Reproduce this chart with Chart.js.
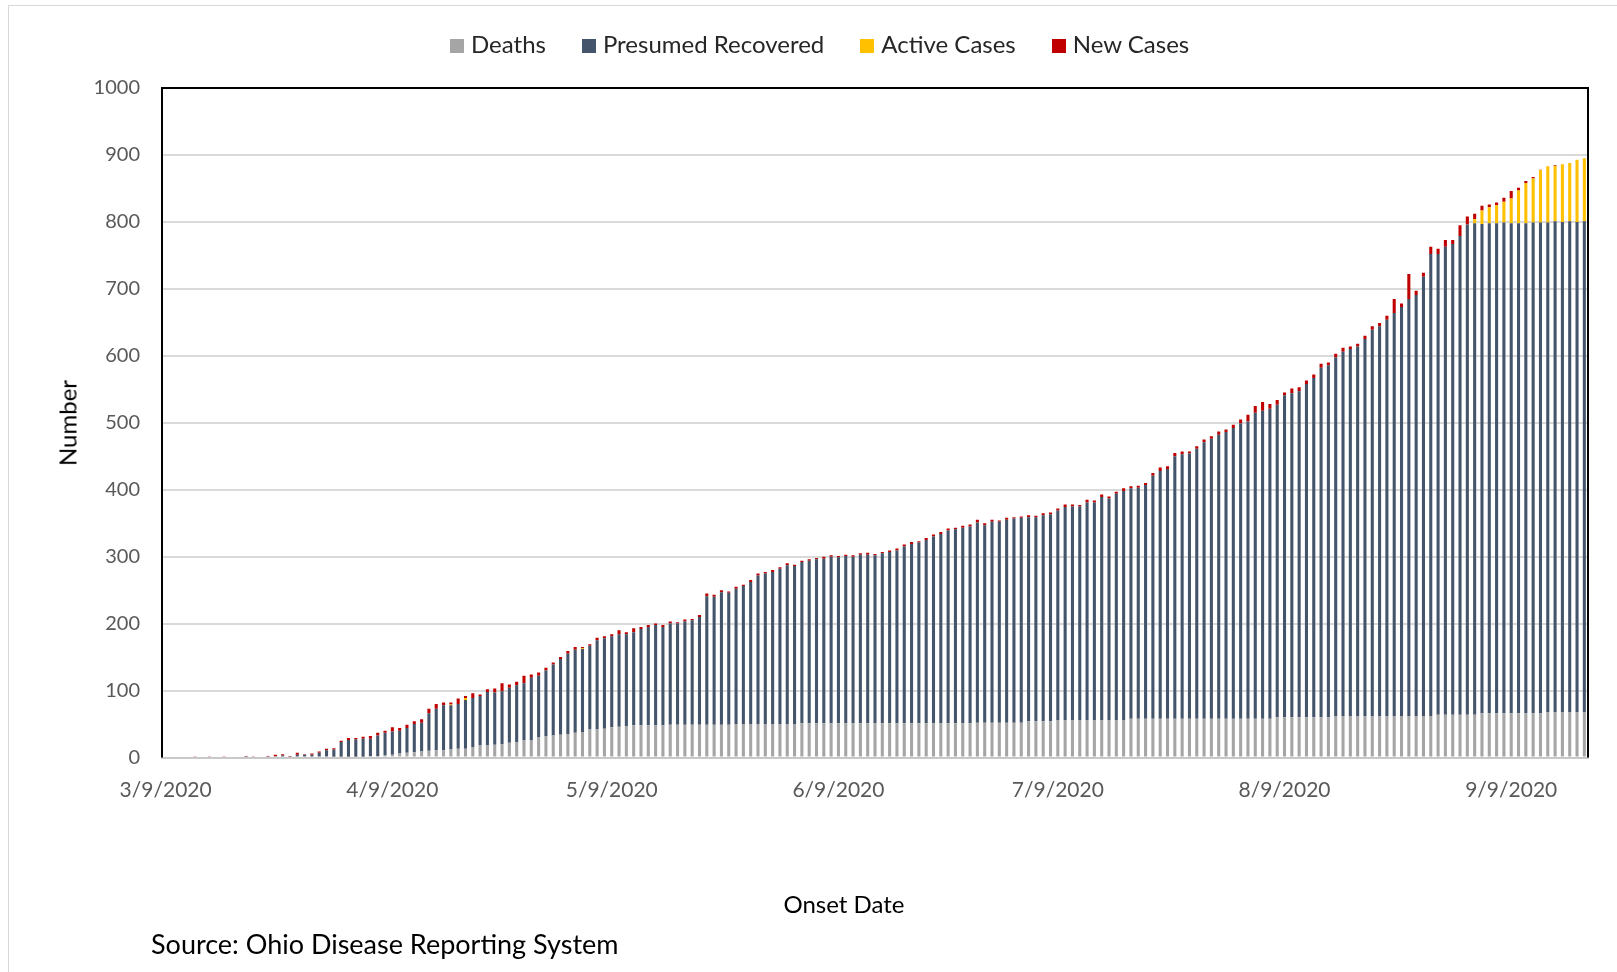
<!DOCTYPE html>
<html>
<head>
<meta charset="utf-8">
<script src="https://cdn.jsdelivr.net/npm/chart.js@4.4.1/dist/chart.umd.min.js"></script>
<style>
  body { margin: 0; background: #fff; font-family: Lato, "Open Sans", sans-serif; }
  #wrap { position: relative; width: 1617px; height: 972px; overflow: hidden; }
  #frame { position: absolute; left: 8px; top: 5px; width: 1620px; height: 980px; border: 1px solid #d9d9d9; box-sizing: border-box; }
  canvas { position: absolute; left: 0; top: 0; }
  .txt { position: absolute; color: #000; white-space: nowrap; }
  #legend { position: absolute; left: 450px; top: 29px; display: flex; align-items: center; gap: 36px; font-size: 24px; color: #262626; }
  #legend span.box { display: inline-block; width: 14px; height: 14px; margin-right: 7px; vertical-align: middle; position: relative; top: -1px; }
  #ytitle { left: 67px; top: 423px; font-size: 24px; transform: translate(-50%, -50%) rotate(-90deg); }
  #xtitle { left: 844px; top: 903px; font-size: 24px; transform: translate(-50%, -50%); }
  #source { left: 151px; top: 943px; font-size: 27px; transform: translateY(-50%); }
</style>
</head>
<body>
<div id="wrap">
  <div id="frame"></div>
  <canvas id="grafico" width="1617" height="972"></canvas>
  <div id="legend"></div>
  <div class="txt" id="ytitle">Number</div>
  <div class="txt" id="xtitle">Onset Date</div>
  <div class="txt" id="source">Source: Ohio Disease Reporting System</div>
</div>
<script>
// ==================== Dados ====================
// Datas de início de sintomas: 3/9/2020 até 9/19/2020 (195 dias)
const labels = [];
for (let d = new Date(2020, 2, 9), i = 0; i < 195; i++, d.setDate(d.getDate() + 1)) {
  labels.push(`${d.getMonth() + 1}/${d.getDate()}/2020`);
}
const tickLabels = ['3/9/2020', '4/9/2020', '5/9/2020', '6/9/2020', '7/9/2020', '8/9/2020', '9/9/2020'];

const deaths = [
  0,0,0,0,0,0,0,0,0,0, 0,0,0,0,0,0,0,0,0,0,
  0,0,0,1,1,1,1,1,2,2, 3,4,6,7,8,9,10,11,11,12,
  13,13,15,18,18,19,20,22,23,26, 26,30,32,33,34,35,37,38,42,42,
  43,45,46,47,48,48,48,48,48,49, 49,49,49,49,49,49,49,49,50,50,
  50,50,50,50,50,50,50,51,51,51, 51,51,51,51,51,51,51,51,51,51,
  51,51,51,51,51,51,51,51,51,51, 51,52,52,52,52,52,52,52,54,54,
  54,54,56,56,56,56,56,56,56,56, 56,56,58,58,58,58,58,58,58,58,
  58,58,58,58,58,58,58,58,58,58, 58,58,60,60,60,60,60,60,60,60,
  62,62,62,62,62,62,62,62,62,62, 62,62,62,62,64,64,64,64,64,64,
  66,66,66,66,66,66,66,66,66,68, 68,68,68,68,68
];
const recovered = [
  0,0,0,0,0,0,0,0,0,0, 0,1,0,0,1,2,3,1,4,4,
  4,7,11,11,22,25,26,27,26,31, 34,35,34,37,42,43,56,62,67,66,
  67,73,74,74,80,78,79,82,85,85, 93,92,98,106,113,120,124,124,125,133,
  135,136,138,137,139,144,147,150,147,151, 151,154,156,161,192,191,198,197,202,206,
  212,222,225,227,232,237,236,241,243,245, 246,249,248,250,249,252,252,251,254,256,
  258,264,268,270,274,279,283,288,290,292, 294,299,295,300,300,303,305,306,305,305,
  308,309,313,318,319,319,325,325,333,331, 338,342,344,345,349,363,370,373,392,395,
  396,403,413,418,424,428,434,441,444,457, 460,463,467,481,484,487,498,507,522,526,
  536,544,548,552,563,577,582,592,602,611, 623,629,656,690,688,699,703,715,732,734,
  731,732,732,733,732,732,732,733,733,731, 733,732,733,732,733
];
const activeCases = [
  0,0,0,0,0,0,0,0,0,0, 0,0,0,0,0,0,0,0,0,0,
  0,0,0,0,0,0,0,0,0,0, 0,0,0,0,0,0,0,0,0,1,
  0,3,0,0,0,0,0,0,0,0, 0,0,0,0,0,0,0,1,0,0,
  0,0,0,0,0,0,0,0,0,0, 0,0,0,0,0,0,0,0,0,0,
  0,0,0,0,0,0,0,0,0,0, 0,0,0,0,0,0,0,0,0,0,
  0,0,0,0,0,0,0,0,0,0, 0,0,0,0,0,0,0,0,0,0,
  0,0,0,0,0,0,0,0,0,0, 0,0,0,0,0,0,0,0,0,0,
  0,0,0,0,0,0,0,0,0,0, 0,0,0,0,0,0,0,0,0,0,
  0,0,0,0,0,0,0,0,0,0, 0,0,0,0,0,0,0,0,0,6,
  20,24,27,31,37,49,60,66,78,84, 83,86,87,93,94
];
const newCases = [
  0,0,0,0,1,0,1,0,1,0, 0,1,1,0,1,2,2,1,3,1,
  2,2,2,2,2,3,2,3,4,4, 3,6,4,5,4,5,7,7,4,3,
  8,3,7,2,4,6,12,5,5,11, 5,5,4,3,3,4,4,2,2,4,
  3,3,6,3,6,3,3,2,3,3, 2,3,2,3,4,3,3,2,3,2,
  3,3,2,3,2,3,2,2,2,2, 3,2,2,2,2,2,3,2,2,2,
  3,3,3,2,3,3,3,3,2,3, 3,4,3,3,2,3,2,2,3,2,
  3,3,3,4,3,2,4,3,4,3, 3,4,3,3,3,4,5,4,5,4,
  3,4,4,4,5,4,5,6,10,10, 13,7,7,4,7,6,5,5,6,4,
  5,6,4,4,5,5,5,6,21,5, 37,6,6,11,8,10,6,16,12,8,
  7,4,4,6,11,4,3,2,1,0, 1,0,0,0,0
];

const cores = {
  mortes: '#a5a5a5',
  recuperados: '#44546a',
  ativos: '#ffc000',
  novos: '#c00000'
};

// ==================== Legenda em HTML ====================
const legenda = document.getElementById('legend');
[['Deaths', cores.mortes], ['Presumed Recovered', cores.recuperados],
 ['Active Cases', cores.ativos], ['New Cases', cores.novos]].forEach(([nome, cor]) => {
  const item = document.createElement('div');
  item.innerHTML = `<span class="box" style="background:${cor}"></span>${nome}`;
  legenda.appendChild(item);
});

// Moldura da área de plotagem (preta em cima e nas laterais)
const molduraPlot = {
  id: 'molduraPlot',
  afterDraw(chart) {
    const { ctx, chartArea: a } = chart;
    ctx.save();
    ctx.strokeStyle = '#000';
    ctx.lineWidth = 2;
    ctx.beginPath();
    ctx.moveTo(a.left, a.bottom);
    ctx.lineTo(a.left, a.top);
    ctx.lineTo(a.right, a.top);
    ctx.lineTo(a.right, a.bottom);
    ctx.stroke();
    ctx.restore();
  }
};

// ==================== Gráfico ====================
const ctx = document.getElementById('grafico').getContext('2d');
const base = { stack: 's', barPercentage: 0.42, categoryPercentage: 1 };

new Chart(ctx, {
  type: 'bar',
  data: {
    labels: labels,
    datasets: [
      { ...base, label: 'Deaths', data: deaths, backgroundColor: cores.mortes },
      { ...base, label: 'Presumed Recovered', data: recovered, backgroundColor: cores.recuperados },
      { ...base, label: 'Active Cases', data: activeCases, backgroundColor: cores.ativos },
      { ...base, label: 'New Cases', data: newCases, backgroundColor: cores.novos }
    ]
  },
  options: {
    responsive: false,
    animation: false,
    devicePixelRatio: 1,
    layout: { padding: { top: 88, right: 29, bottom: 0, left: 0 } },
    plugins: {
      legend: { display: false },
      tooltip: { enabled: false }
    },
    scales: {
      x: {
        stacked: true,
        grid: { display: false },
        border: { display: true, color: '#c8c8c8', width: 2 },
        ticks: {
          autoSkip: false,
          maxRotation: 0,
          minRotation: 0,
          padding: 12,
          color: '#595959',
          font: { family: 'Lato', size: 21 },
          callback: (v, i) => tickLabels.includes(labels[i]) ? labels[i] : ''
        },
        afterFit: (s) => { s.height = 214.5; }
      },
      y: {
        stacked: true,
        min: 0,
        max: 1000,
        ticks: {
          stepSize: 100, padding: 22, color: '#595959', font: { family: 'Lato', size: 20 },
          callback: (v) => String(v)
        },
        grid: { color: '#d9d9d9', lineWidth: 2, drawTicks: false },
        border: { display: false },
        afterFit: (s) => { s.width = 162; }
      }
    }
  },
  plugins: [molduraPlot]
});
</script>
</body>
</html>
